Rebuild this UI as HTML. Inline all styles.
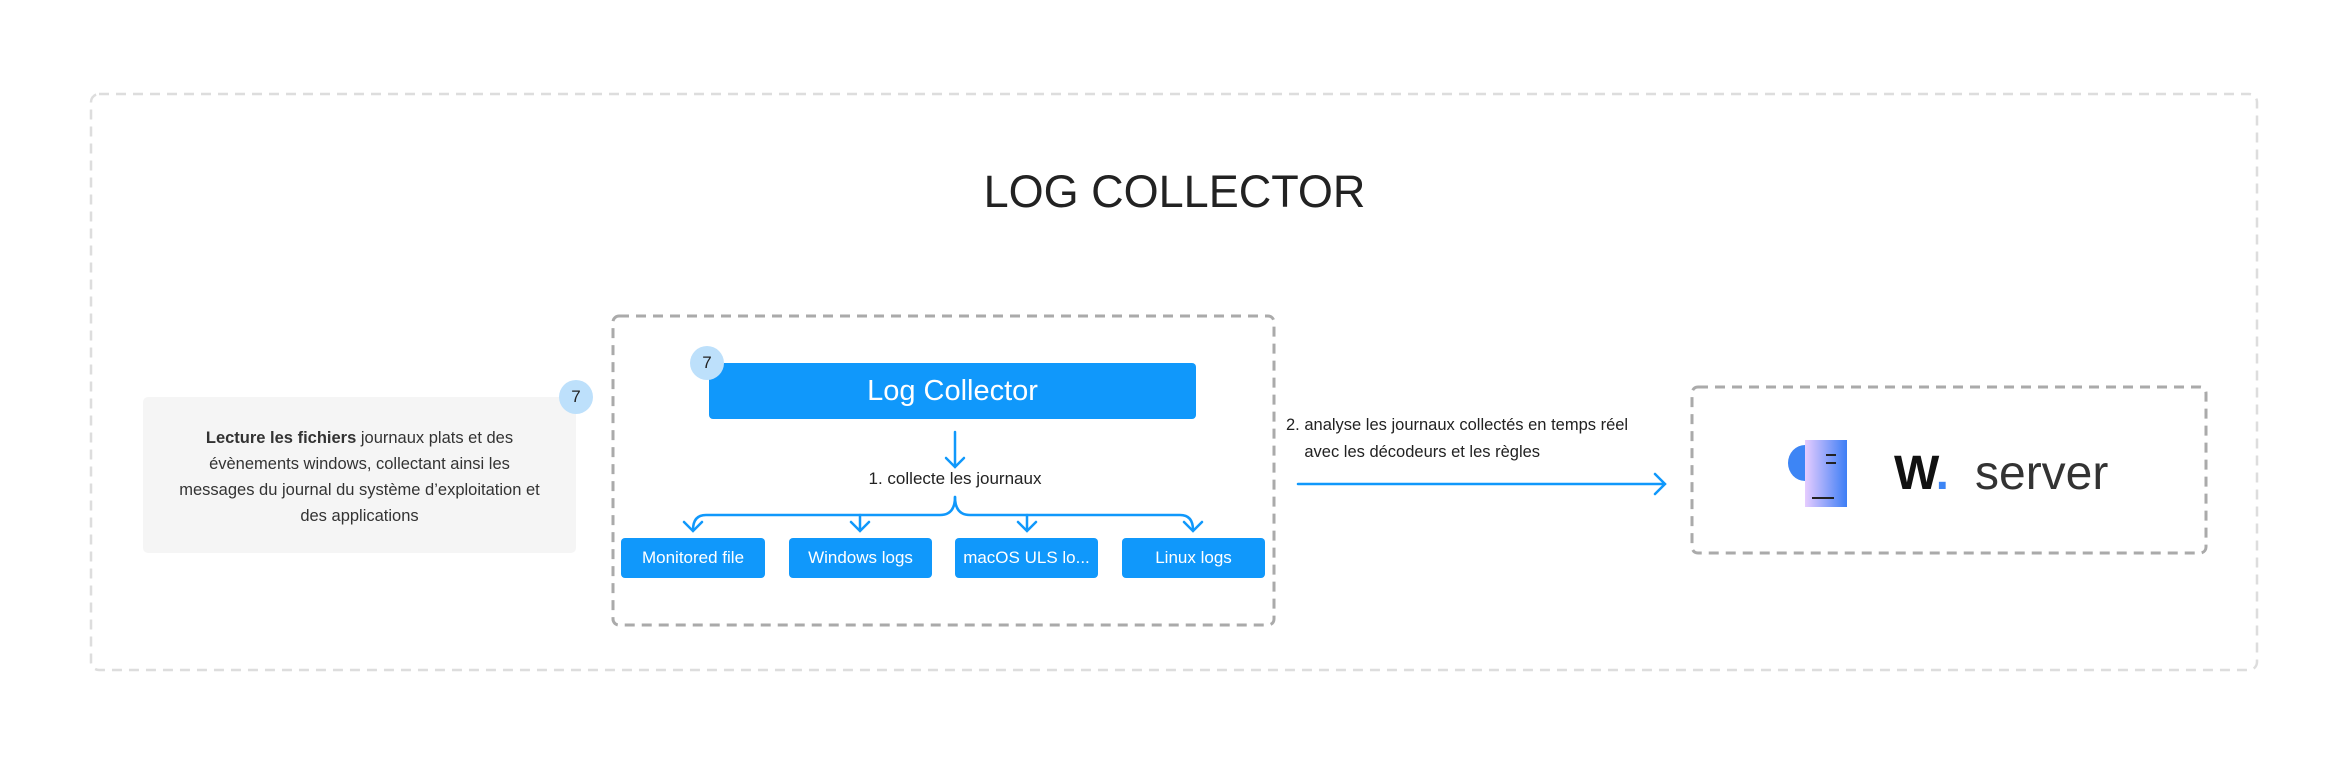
<!DOCTYPE html>
<html><head><meta charset="utf-8"><style>
body{margin:0;width:2349px;height:765px;background:#fff;position:relative;overflow:hidden;font-family:"Liberation Sans",sans-serif}
.a{position:absolute}
.box{position:absolute;background:#1098fb;color:#fff;border-radius:4px;display:flex;align-items:center;justify-content:center}
.badge{position:absolute;width:34px;height:34px;border-radius:50%;background:#bde0fb;color:#222;font-size:17px;display:flex;align-items:center;justify-content:center}
</style></head><body>
<svg class="a" style="left:0;top:0" width="2349" height="765">
<rect x="91" y="94" width="2166" height="576" rx="8" fill="none" stroke="#ddd" stroke-width="2.5" stroke-dasharray="10 7"/>
<rect x="613" y="316" width="661" height="309" rx="6" fill="none" stroke="#aaa" stroke-width="3" stroke-dasharray="10 7"/>
<rect x="1692" y="387" width="514" height="166" rx="6" fill="none" stroke="#aaa" stroke-width="3" stroke-dasharray="10 7"/>
<g stroke="#1098fb" stroke-width="2.5" fill="none" stroke-linecap="round">
<path d="M955 432V467M946 458L955 467L964 458"/>
<path d="M955 497Q955 515 940 515H706Q693 515 693 530M706 515"/>
<path d="M955 497Q955 515 970 515H1180Q1193 515 1193 530"/>
<path d="M684 522L693 531L702 522M851 522L860 531L869 522M1018 522L1027 531L1036 522M1184 522L1193 531L1202 522"/>
<path d="M860 515V530M1027 515V530"/>
<path d="M1298 484H1665M1655 474L1665 484L1655 494"/>
</g>
<defs><linearGradient id="g" x1="0" x2="1"><stop offset="0" stop-color="#e6ccff"/><stop offset="1" stop-color="#3d7ef5"/></linearGradient></defs>
<rect x="1805" y="440" width="42" height="67" fill="url(#g)"/>
<path d="M1805 445A17 18 0 0 0 1805 481Z" fill="#3d85f5"/>
<path d="M1826 455h10M1826 463h10M1812 498h22" stroke="#222" stroke-width="2"/>
</svg>
<div class="a" style="left:0;width:2349px;top:166px;text-align:center;font-size:45px;color:#222">LOG COLLECTOR</div>
<div class="a" style="left:143px;top:397px;width:433px;height:156px;background:#f5f5f5;border-radius:5px"></div>
<div class="a" style="left:143px;top:425px;width:433px;text-align:center;font-size:16.5px;line-height:26px;color:#333"><b>Lecture les fichiers</b> journaux plats et des<br>évènements windows, collectant ainsi les<br>messages du journal du système d’exploitation et<br>des applications</div>
<div class="badge" style="left:559px;top:380px">7</div>
<div class="box" style="left:709px;top:363px;width:487px;height:56px;font-size:29px">Log Collector</div>
<div class="badge" style="left:690px;top:346px">7</div>
<div class="a" style="left:755px;width:400px;top:469px;text-align:center;font-size:17px;color:#222">1. collecte les journaux</div>
<div class="box" style="left:621px;top:538px;width:144px;height:40px;font-size:17px">Monitored file</div>
<div class="box" style="left:789px;top:538px;width:143px;height:40px;font-size:17px">Windows logs</div>
<div class="box" style="left:955px;top:538px;width:143px;height:40px;font-size:17px">macOS ULS lo...</div>
<div class="box" style="left:1122px;top:538px;width:143px;height:40px;font-size:17px">Linux logs</div>
<div class="a" style="left:1286px;top:412px;font-size:16.5px;line-height:27px;color:#222">2. analyse les journaux collectés en temps réel<br>&nbsp;&nbsp;&nbsp;&nbsp;avec les décodeurs et les règles</div>
<div class="a" style="left:1894px;top:446px;font-size:48px;font-weight:bold;color:#111;letter-spacing:-1px">W<span style="color:#3d85f5">.</span></div>
<div class="a" style="left:1975px;top:446px;font-size:48px;color:#333">server</div>
</body></html>
